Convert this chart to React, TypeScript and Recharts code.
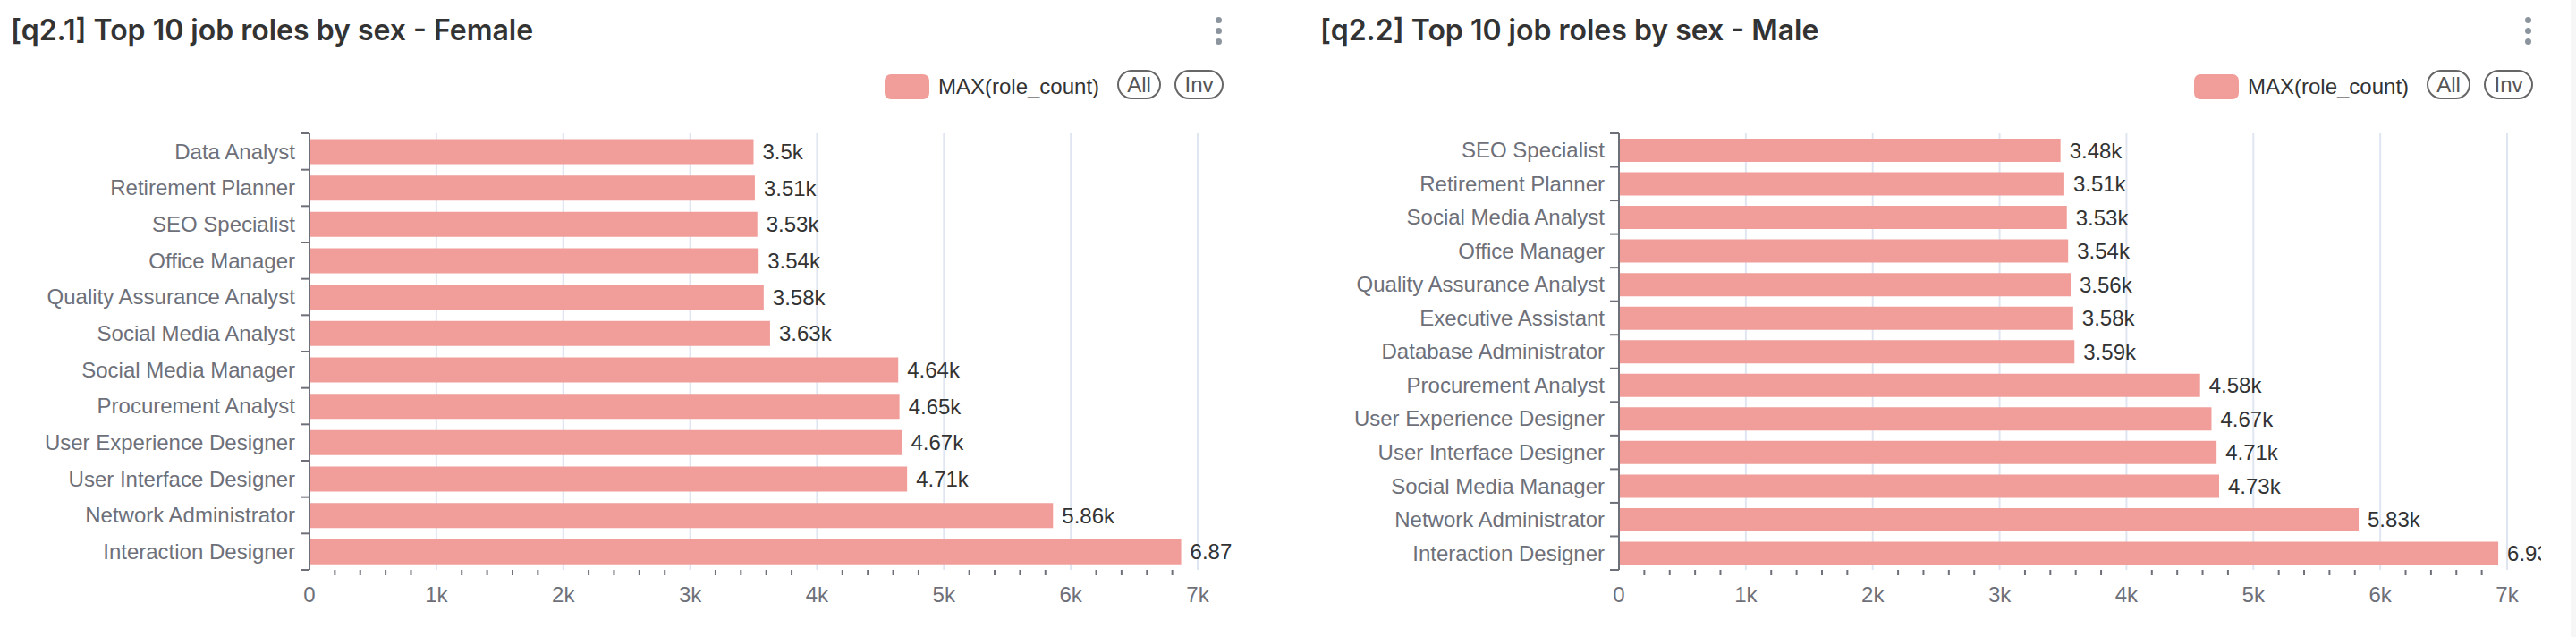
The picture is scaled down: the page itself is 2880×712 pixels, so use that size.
import React from "react";
import { BarChart, Bar, XAxis, YAxis, LabelList, CartesianGrid } from "recharts";

// [q2.1] female roles, top to bottom
const femaleRoles = [
  "Data Analyst",
  "Retirement Planner",
  "SEO Specialist",
  "Office Manager",
  "Quality Assurance Analyst",
  "Social Media Analyst",
  "Social Media Manager",
  "Procurement Analyst",
  "User Experience Designer",
  "User Interface Designer",
  "Network Administrator",
  "Interaction Designer",
];
const femaleCounts = [3500, 3510, 3530, 3540, 3580, 3630, 4640, 4650, 4670, 4710, 5860, 6870];

// [q2.2] male roles, top to bottom
const maleRoles = [
  "SEO Specialist",
  "Retirement Planner",
  "Social Media Analyst",
  "Office Manager",
  "Quality Assurance Analyst",
  "Executive Assistant",
  "Database Administrator",
  "Procurement Analyst",
  "User Experience Designer",
  "User Interface Designer",
  "Social Media Manager",
  "Network Administrator",
  "Interaction Designer",
];
const maleCounts = [3480, 3510, 3530, 3540, 3560, 3580, 3590, 4580, 4670, 4710, 4730, 5830, 6930];

const majorTicks = [0, 1000, 2000, 3000, 4000, 5000, 6000, 7000];
const majorLabels = ["0", "1k", "2k", "3k", "4k", "5k", "6k", "7k"];
const minorTicks = [
  200, 400, 600, 800, 1200, 1400, 1600, 1800, 2200, 2400, 2600, 2800,
  3200, 3400, 3600, 3800, 4200, 4400, 4600, 4800, 5200, 5400, 5600, 5800,
  6200, 6400, 6600, 6800,
];
const allTicks = [...majorTicks, ...minorTicks].sort((a, b) => a - b);

const BAR_COLOR = "#f19e9a";
const AXIS_COLOR = "#6e7079";
const GRID_COLOR = "#e0e6f1";

const CHART_W = 1377;
const CHART_H = 712;
const PLOT_TOP = 149;
const X_AXIS_H = 75;
const Y_AXIS_W = 346;
const PLOT_H = CHART_H - PLOT_TOP - X_AXIS_H;
const PANEL_SHIFT = 1464;

function fmtK(v: number): string {
  return parseFloat((v / 1000).toPrecision(3)).toString() + "k";
}

function XTick(props: any) {
  const { x, y, payload } = props;
  const i = majorTicks.indexOf(payload.value);
  if (i >= 0) {
    return (
      <text x={x} y={y + 36} textAnchor="middle" fill={AXIS_COLOR} fontSize={24}>
        {majorLabels[i]}
      </text>
    );
  }
  return <line x1={x} x2={x} y1={y} y2={y + 6} stroke={AXIS_COLOR} strokeWidth={2} />;
}

function makeYTick(n: number) {
  const band = PLOT_H / n;
  return (props: any) => {
    const { x, y, payload, index } = props;
    return (
      <g>
        <line x1={x - 10} x2={x} y1={y - band / 2} y2={y - band / 2} stroke={AXIS_COLOR} strokeWidth={2} />
        {index === n - 1 && (
          <line x1={x - 10} x2={x} y1={y + band / 2} y2={y + band / 2} stroke={AXIS_COLOR} strokeWidth={2} />
        )}
        <text x={x - 16} y={y} dy="0.35em" textAnchor="end" fill={AXIS_COLOR} fontSize={24}>
          {payload.value}
        </text>
      </g>
    );
  };
}

function Kebab({ left }: { left: number }) {
  return (
    <>
      {[22, 34, 46].map((cy) => (
        <div
          key={cy}
          style={{
            position: "absolute",
            left: left - 3.5,
            top: cy - 3.5,
            width: 7,
            height: 7,
            borderRadius: "50%",
            background: "#8c959d",
          }}
        />
      ))}
    </>
  );
}

function Legend() {
  const pill: React.CSSProperties = {
    position: "absolute",
    top: 78,
    height: 33,
    boxSizing: "border-box",
    border: "2px solid #666",
    borderRadius: 17,
    color: "#555",
    fontSize: 24,
    lineHeight: "29px",
    textAlign: "center",
  };
  return (
    <>
      <div
        style={{ position: "absolute", left: 989, top: 83, width: 50, height: 28, borderRadius: 7, background: BAR_COLOR }}
      />
      <div style={{ position: "absolute", left: 1049, top: 83, fontSize: 24, lineHeight: "28px", color: "#333" }}>
        MAX(role_count)
      </div>
      <div style={{ ...pill, left: 1249, width: 49 }}>All</div>
      <div style={{ ...pill, left: 1313, width: 55 }}>Inv</div>
    </>
  );
}

function Panel({ title, roles, counts, shift }: { title: string; roles: string[]; counts: number[]; shift: number }) {
  const rows = roles.map((role, i) => ({ role, count: counts[i] }));
  return (
    <div style={{ position: "absolute", left: shift, top: 0, width: CHART_W, height: CHART_H }}>
      <div style={{ position: "absolute", left: 0, top: 0 }}>
        <BarChart
          layout="vertical"
          width={CHART_W}
          height={CHART_H}
          data={rows}
          margin={{ top: PLOT_TOP, right: 38, bottom: 0, left: 0 }}
          barCategoryGap="16%"
        >
          <CartesianGrid
            horizontal={false}
            vertical
            verticalValues={majorTicks.slice(1)}
            stroke={GRID_COLOR}
            strokeWidth={2}
          />
          <XAxis
            type="number"
            domain={[0, 7000]}
            ticks={allTicks}
            interval={0}
            tick={<XTick />}
            tickLine={false}
            axisLine={false}
            tickSize={0}
            tickMargin={0}
            height={X_AXIS_H}
          />
          <YAxis
            type="category"
            dataKey="role"
            width={Y_AXIS_W}
            interval={0}
            tick={makeYTick(rows.length)}
            tickLine={false}
            tickSize={0}
            tickMargin={0}
            axisLine={{ stroke: AXIS_COLOR, strokeWidth: 2 }}
          />
          <Bar dataKey="count" fill={BAR_COLOR} isAnimationActive={false}>
            <LabelList dataKey="count" position="right" offset={10} formatter={fmtK} fill="#333" fontSize={24} />
          </Bar>
        </BarChart>
      </div>
      <div
        style={{
          position: "absolute",
          left: 12,
          top: 18,
          fontFamily: "Inter",
          fontWeight: 600,
          fontSize: 32,
          lineHeight: "32px",
          color: "#333",
          whiteSpace: "nowrap",
        }}
      >
        {title}
      </div>
      <Kebab left={1362} />
      <Legend />
    </div>
  );
}

export default function App() {
  return (
    <div
      style={{
        position: "absolute",
        left: 0,
        top: 0,
        width: 2880,
        height: 712,
        background: "#fff",
        overflow: "hidden",
        fontFamily: "'Liberation Sans', Arial, sans-serif",
      }}
    >
      <Panel title="[q2.1] Top 10 job roles by sex - Female" roles={femaleRoles} counts={femaleCounts} shift={0} />
      <Panel title="[q2.2] Top 10 job roles by sex - Male" roles={maleRoles} counts={maleCounts} shift={PANEL_SHIFT} />
      <div style={{ position: "absolute", left: 2874, top: 0, width: 6, height: 712, background: "#f6f6f6" }} />
    </div>
  );
}
